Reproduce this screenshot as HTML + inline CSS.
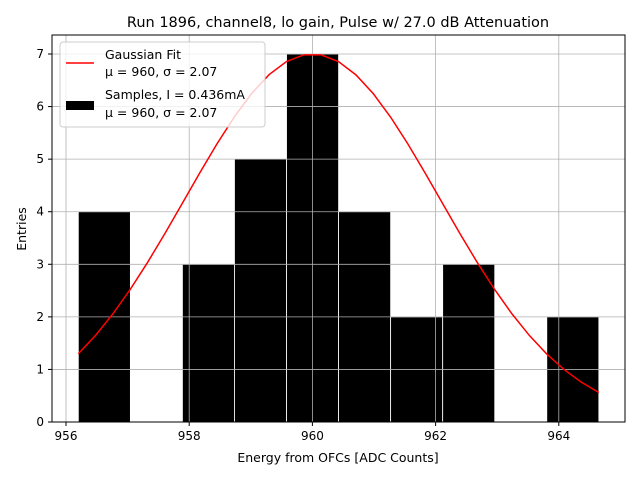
<!DOCTYPE html>
<html><head><meta charset="utf-8"><style>
body{margin:0;background:#fff;font-family:"Liberation Sans","DejaVu Sans",sans-serif}
svg text{font-family:"DejaVu Sans","Liberation Sans",sans-serif}
</style></head><body>
<svg id="chart" width="640" height="480">
<text x="338" y="27" font-size="14.5" text-anchor="middle">Run 1896, channel8, lo gain, Pulse w/ 27.0 dB Attenuation</text>
<g id="bars"></g><g id="grid"></g><g id="fit"></g><g id="axes"></g>
<text x="338" y="462" font-size="12.5" text-anchor="middle">Energy from OFCs [ADC Counts]</text>
<text transform="translate(26,229) rotate(-90)" font-size="12.5" text-anchor="middle">Entries</text>
<g>
<rect x="60" y="42" width="205" height="85" fill="#fff" fill-opacity="0.8" stroke="#ccc" rx="3"/>
<line x1="66" y1="63" x2="94" y2="63" stroke="red" stroke-width="1.5"/>
<text x="105" y="59" font-size="12.5">Gaussian Fit</text>
<text x="105" y="76" font-size="12.5">μ = 960, σ = 2.07</text>
<rect x="66" y="101" width="28" height="9" fill="#000"/>
<text x="105" y="99" font-size="12.5">Samples, I = 0.436mA</text>
<text x="105" y="117" font-size="12.5">μ = 960, σ = 2.07</text>
</g>
</svg>
<script>
const binStart = 956.2, binEnd = 964.65;
const counts = [4,0,3,5,7,4,2,3,0,2];
const xTicks = [956,958,960,962,964];
const yTicks = [0,1,2,3,4,5,6,7];
const fitMu = 960, fitSigma = 2.07, fitAmp = 7;
const L=52,R=625,T=35,B=422;
const xs=v=>66+(v-956)*61.6, ys=v=>422-v*52.57;
const NS="http://www.w3.org/2000/svg";
function mk(t,a,p){const e=document.createElementNS(NS,t);for(const k in a)e.setAttribute(k,a[k]);p.appendChild(e);return e;}
const grid=document.getElementById('grid'),axes=document.getElementById('axes'),bars=document.getElementById('bars'),fit=document.getElementById('fit');
xTicks.forEach(v=>{const x=xs(v);
 const g=mk('line',{x1:x,x2:x,y1:T,y2:B,stroke:'#b0b0b0','stroke-width':0.8},grid);
 
 
 mk('line',{x1:x,x2:x,y1:B,y2:B+4,stroke:'#000'},axes);
 const t=mk('text',{x:x,y:B+18,'font-size':12,'text-anchor':'middle'},axes);t.textContent=v;
 
 });
yTicks.forEach(v=>{const y=ys(v);
 const g=mk('line',{x1:L,x2:R,y1:y,y2:y,stroke:'#b0b0b0','stroke-width':0.8},grid);
 
 
 mk('line',{x1:L-4,x2:L,y1:y,y2:y,stroke:'#000'},axes);
 const t=mk('text',{x:L-8,y:y+4,'font-size':12,'text-anchor':'end'},axes);t.textContent=v;
 
 });
const w=(binEnd-binStart)/counts.length;
counts.forEach((c,i)=>{if(!c)return;const x0=xs(binStart+i*w),x1=xs(binStart+(i+1)*w);
 const r=mk('rect',{x:x0,y:ys(c),width:x1-x0,height:ys(0)-ys(c),fill:'#000',stroke:'#fff','stroke-width':0.8},bars);
 
 });
let pts=[];for(let i=0;i<=30;i++){const v=binStart+(binEnd-binStart)*i/30;pts.push(xs(v)+','+ys(fitAmp*Math.exp(-Math.pow(v-fitMu,2)/(2*fitSigma*fitSigma))));}
const pl=mk('polyline',{points:pts.join(' '),fill:'none',stroke:'red','stroke-width':1.5},fit);


const fr=mk('rect',{x:L,y:T,width:R-L,height:B-T,fill:'none',stroke:'#000','stroke-width':1},axes);


</script>
</body></html>
